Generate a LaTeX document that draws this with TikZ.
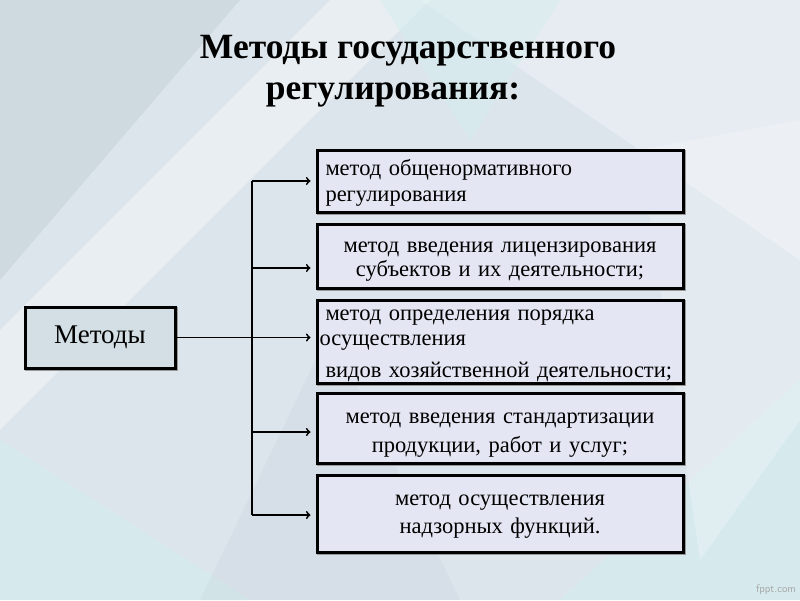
\documentclass[tikz,border=0pt]{standalone}
\usepackage{fontspec}
\setmainfont{Liberation Serif}
\usetikzlibrary{shadows}

\definecolor{bgbase}{HTML}{DCE5EC}
\definecolor{bgslate}{HTML}{BFCBD3}
\definecolor{bgcyan}{HTML}{D2EEEE}
\definecolor{boxfill}{HTML}{E4E7F3}
\definecolor{leftfill}{HTML}{D3DFE4}

\begin{document}
\begin{tikzpicture}[x=1pt,y=-1pt,
  box/.style={draw=black,line width=3pt,fill=boxfill,minimum width=366pt,
    inner xsep=8.5pt,inner ysep=5pt,text width=349pt,font=\fontsize{22.5}{26}\selectfont,text height=0pt,
    copy shadow={shadow xshift=1.5pt,shadow yshift=-1.5pt,draw=gray!80,fill=gray!80}},
  conn/.style={line width=1.8pt,>=to}]
% background
\fill[bgbase] (0,0) rectangle (800,600);
\fill[bgslate,opacity=.45] (0,0) -- (240,0) -- (0,280) -- cycle;
\fill[white,opacity=.35] (0,330) -- (330,0) -- (430,0) -- (0,430) -- cycle;
\fill[bgcyan,opacity=.6] (0,440) -- (250,600) -- (0,600) -- cycle;
\fill[bgcyan,opacity=.5] (560,600) -- (800,380) -- (800,600) -- cycle;
\fill[white,opacity=.3] (420,0) -- (800,0) -- (800,260) -- cycle;
\fill[bgcyan,opacity=.45] (380,0) -- (560,0) -- (470,140) -- cycle;
\fill[white,opacity=.25] (640,150) -- (800,120) -- (800,420) -- (700,560) -- cycle;
\fill[bgslate,opacity=.2] (200,600) -- (330,330) -- (460,600) -- cycle;

% title
\node[font=\fontsize{35.5}{41}\selectfont\bfseries,align=center] (title) at (408,71)
  {Методы государственного\\регулирования:\hspace*{30pt}};

% boxes
\node[box,align=left,minimum height=62pt,text depth=12pt] (m1) at (500,181)
  {метод общенормативного\\регулирования};
\node[box,align=center,minimum height=64pt,text depth=8pt,
  font=\fontsize{22.5}{24}\selectfont] (m2) at (500,256)
  {метод введения лицензирования\\субъектов и их деятельности;};
\node[box,align=left,minimum height=83pt,text depth=43pt,
  font=\fontsize{22.5}{25}\selectfont] (m3) at (500,341.5)
  {метод определения порядка\\\hspace*{-6pt}осуществления\\[7pt]видов хозяйственной деятельности;};
\node[box,align=center,minimum height=70pt,text depth=10pt,
  font=\fontsize{22.5}{29}\selectfont] (m4) at (500,428)
  {метод введения стандартизации\\продукции, работ и услуг;};
\node[box,align=center,minimum height=77pt,text depth=17pt,
  font=\fontsize{22.5}{28}\selectfont] (m5) at (500,513.5)
  {метод осуществления\\надзорных функций.};

\node[box,fill=leftfill,minimum width=150pt,minimum height=61pt,text width=,
  text height=,text depth=,font=\fontsize{27}{30}\selectfont] (methods) at (100,337.5) {Методы};

% connectors
\coordinate (jt) at (252,181);
\coordinate (jb) at (252,515);
\draw[conn] (jt) -- (jb);
\draw[conn,->,shorten >=5pt] (methods.east) -- (methods.east -| m3.west);
\foreach \b/\d in {m1/0,m2/-12,m4/-4,m5/-1.5}{
  \path ([yshift=\d pt]\b.west) coordinate (a\b);
  \draw[conn,->,shorten >=5pt] (jt |- a\b) -- (a\b);
}

\node[text=gray!70,font=\sffamily\fontsize{11}{12}\selectfont] (wm) at (776,590) {fppt.com};
\end{tikzpicture}
\end{document}
